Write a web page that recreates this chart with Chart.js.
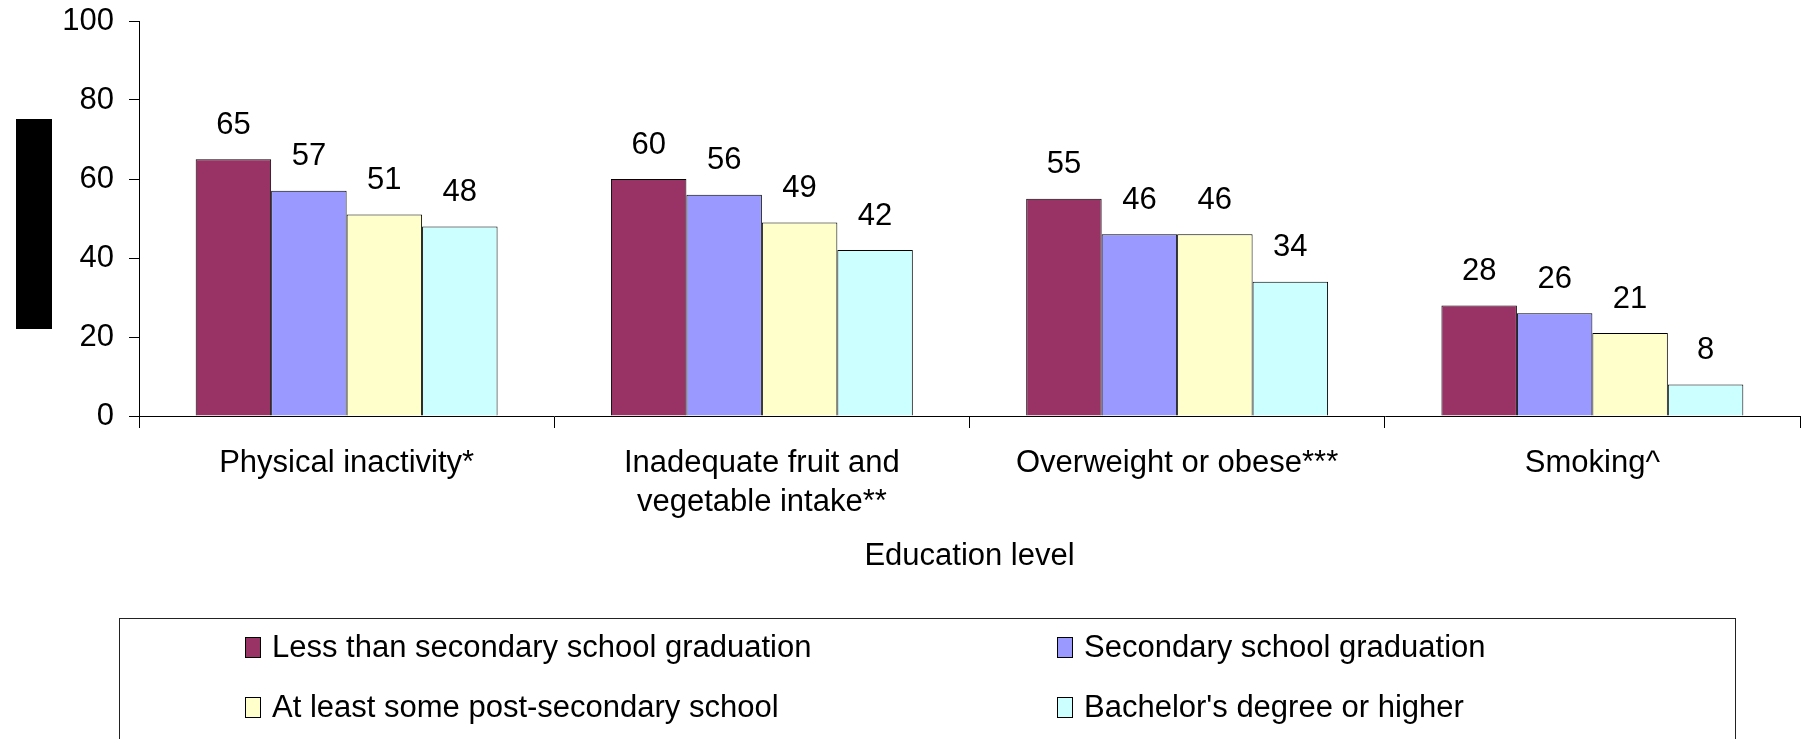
<!DOCTYPE html>
<html>
<head>
<meta charset="utf-8">
<script src="https://cdn.jsdelivr.net/npm/chart.js@4"></script>
<style>
	html, body { margin: 0; padding: 0; background: #fff; }
	#wrap { position: relative; width: 1806px; height: 739px; overflow: hidden; font-family: "Liberation Sans", Arial, sans-serif; }
	#chart { position: absolute; left: 0; top: 0; }
	#ytitle { position: absolute; left: 16px; top: 119px; width: 36px; height: 210px; background: #000; }
	#legend { position: absolute; left: 119px; top: 618px; width: 1617px; height: 140px; border: 1px solid #222; box-sizing: border-box; }
	.item { position: absolute; height: 30px; font-size: 31px; line-height: 30px; color: #000; white-space: nowrap; }
	.mark { position: absolute; left: 0; top: 5px; width: 14px; height: 19px; border: 1px solid #000; }
	.label { position: absolute; left: 27px; top: 0; }
</style>
</head>
<body>
<div id="wrap">
	<canvas id="chart" width="1806" height="739"></canvas>
	<div id="ytitle"></div>
	<div id="legend"></div>
</div>
<script>
// categories and series
const categories = [
	"Physical inactivity*",
	["Inadequate fruit and", "vegetable intake**"],
	"Overweight or obese***",
	"Smoking^"
];
const seriesNames = [
	"Less than secondary school graduation",
	"Secondary school graduation",
	"At least some post-secondary school",
	"Bachelor's degree or higher"
];
const lessThanSecondary = [65, 60, 55, 28];
const secondaryGrad = [57, 56, 46, 26];
const somePostSecondary = [51, 49, 46, 21];
const bachelorOrHigher = [48, 42, 34, 8];
const seriesColors = ["#993366", "#9999FF", "#FFFFCC", "#CCFFFF"];
const yTicks = [0, 20, 40, 60, 80, 100];
const xTitle = "Education level";

const seriesValues = [lessThanSecondary, secondaryGrad, somePostSecondary, bachelorOrHigher];
const FONT = "'Liberation Sans', Arial, sans-serif";

// value labels above each bar
const valueLabels = {
	id: "valueLabels",
	afterDatasetsDraw(chart) {
		const ctx = chart.ctx;
		ctx.save();
		ctx.font = "31px " + FONT;
		ctx.fillStyle = "#000";
		ctx.textAlign = "center";
		ctx.textBaseline = "middle";
		chart.data.datasets.forEach((ds, i) => {
			chart.getDatasetMeta(i).data.forEach((bar, j) => {
				ctx.fillText(String(ds.data[j]), bar.x, bar.y - 34);
			});
		});
		ctx.restore();
	}
};

new Chart(document.getElementById("chart"), {
	type: "bar",
	data: {
		labels: categories,
		datasets: seriesValues.map((vals, i) => ({
			label: seriesNames[i],
			data: vals,
			backgroundColor: seriesColors[i],
			borderColor: "#000",
			borderWidth: 1,
			barPercentage: 1,
			categoryPercentage: 0.727
		}))
	},
	options: {
		responsive: false,
		animation: false,
		layout: { padding: { left: 0, right: 6, top: 21, bottom: 139 } },
		plugins: {
			legend: { display: false },
			tooltip: { enabled: false }
		},
		scales: {
			x: {
				grid: { display: true, offset: true, drawOnChartArea: false, drawTicks: true, tickLength: 12, color: "#000" },
				border: { display: true, color: "#000" },
				ticks: { color: "#000", padding: 16, maxRotation: 0, autoSkip: false, font: { family: FONT, size: 31, lineHeight: 1.26 } },
				title: { display: true, text: xTitle, color: "#000", font: { family: FONT, size: 31, lineHeight: 1.2 }, padding: { top: 0, bottom: 25 } },
				afterFit(scale) { scale.height = 184; }
			},
			y: {
				min: 0,
				max: 100,
				afterBuildTicks(scale) { scale.ticks = yTicks.map(v => ({ value: v })); },
				grid: { display: true, drawOnChartArea: false, drawTicks: true, tickLength: 10, color: "#000" },
				border: { display: true, color: "#000" },
				ticks: { color: "#000", padding: 15, font: { family: FONT, size: 31 } },
				afterFit(scale) {
					scale.width = 139;
					scale.paddingTop = 0;
					scale.paddingBottom = 0;
				}
			}
		}
	},
	plugins: [valueLabels]
});

// legend box, two columns
const legend = document.getElementById("legend");
const legendPos = [[125, 13], [937, 13], [125, 73], [937, 73]];
seriesNames.forEach((name, i) => {
	const item = document.createElement("div");
	item.className = "item";
	item.style.left = legendPos[i][0] + "px";
	item.style.top = legendPos[i][1] + "px";
	const mark = document.createElement("div");
	mark.className = "mark";
	mark.style.background = seriesColors[i];
	const label = document.createElement("div");
	label.className = "label";
	label.innerText = name;
	item.appendChild(mark);
	item.appendChild(label);
	legend.appendChild(item);
});
</script>
</body>
</html>
